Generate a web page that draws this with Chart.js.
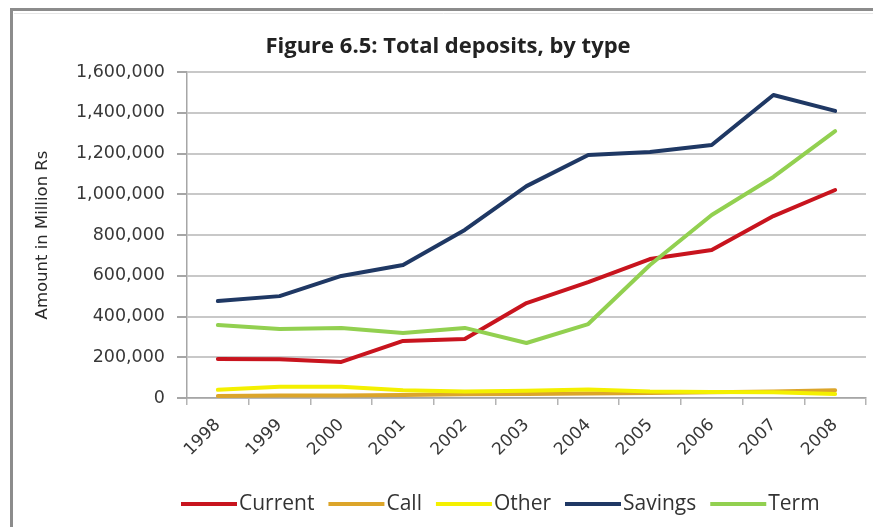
<!DOCTYPE html>
<html>
<head>
<meta charset="utf-8">
<script src="https://cdn.jsdelivr.net/npm/chart.js@4/dist/chart.umd.min.js"></script>
<style>
  html, body { margin: 0; padding: 0; background: #fff; }
  #wrap { width: 873px; height: 527px; position: relative; overflow: hidden; }
</style>
</head>
<body>
<div id="wrap"><canvas id="c" width="873" height="527"></canvas></div>
<script>
// Deposit totals by type, million Rs
const years   = ['1998', '1999', '2000', '2001', '2002', '2003', '2004', '2005', '2006', '2007', '2008'];
const current = [191000, 190000, 177000, 280000, 290000, 466000, 569000, 682000, 726000, 893000, 1021000];
const call    = [10000, 12000, 12000, 15000, 18000, 20000, 22000, 25000, 28000, 32000, 38000];
const other   = [40000, 55000, 55000, 38000, 32000, 35000, 42000, 32000, 30000, 28000, 20000];
const savings = [476000, 500000, 599000, 653000, 825000, 1040000, 1193000, 1207000, 1242000, 1487000, 1409000];
const term    = [358000, 339000, 344000, 319000, 344000, 270000, 363000, 653000, 898000, 1085000, 1310000];
const yTicks  = [0, 200000, 400000, 600000, 800000, 1000000, 1200000, 1400000, 1600000];

const seriesNames  = ['Current', 'Call', 'Other', 'Savings', 'Term'];
const seriesValues = [current, call, other, savings, term];
const seriesColors = ['#c8141e', '#dca52a', '#f4f000', '#1f3864', '#92d050'];

const datasets = seriesNames.map((name, i) => ({
  label: name,
  data: seriesValues[i],
  borderColor: seriesColors[i],
  backgroundColor: seriesColors[i],
  borderWidth: 4,
  pointRadius: 0,
  tension: 0,
  fill: false,
  borderCapStyle: 'round',
  borderJoinStyle: 'round',
  // later series sit on top of earlier ones
  order: seriesNames.length - i
}));

// white background plus the grey frame around the chart
const framePlugin = {
  id: 'frame',
  beforeDraw(chart) {
    const ctx = chart.ctx;
    ctx.save();
    ctx.fillStyle = '#ffffff';
    ctx.fillRect(0, 0, chart.width, chart.height);
    ctx.strokeStyle = '#8c8c8c';
    ctx.lineWidth = 3;
    ctx.strokeRect(11.5, 9.5, chart.width + 20, chart.height + 20);
    ctx.strokeStyle = '#e6e6e6';
    ctx.lineWidth = 1;
    ctx.beginPath();
    ctx.moveTo(14, 13.5);
    ctx.lineTo(chart.width, 13.5);
    ctx.stroke();
    ctx.restore();
  }
};

// legend row under the axis: short line sample followed by the series name
const lineLegend = {
  id: 'lineLegend',
  afterDraw(chart) {
    const ctx = chart.ctx;
    const font = '21px "Open Sans"';
    const y = 504;
    const lineLen = 56;
    const gap = 2;
    const spacing = 14;
    ctx.save();
    ctx.font = font;
    ctx.textBaseline = 'middle';
    ctx.fillStyle = '#333333';
    let x = 181;
    chart.data.datasets.forEach(ds => {
      ctx.strokeStyle = ds.borderColor;
      ctx.lineWidth = 4;
      ctx.lineCap = 'butt';
      ctx.beginPath();
      ctx.moveTo(x, y);
      ctx.lineTo(x + lineLen, y);
      ctx.stroke();
      const tx = x + lineLen + gap;
      ctx.fillText(ds.label, tx, y);
      x = tx + ctx.measureText(ds.label).width + spacing;
    });
    ctx.restore();
  }
};

new Chart(document.getElementById('c'), {
  type: 'line',
  data: { labels: years, datasets },
  plugins: [framePlugin, lineLegend],
  options: {
    responsive: false,
    devicePixelRatio: 1,
    animation: false,
    layout: { padding: { left: 30, right: 7, top: 0, bottom: 0 } },
    plugins: {
      legend: { display: false },
      tooltip: { enabled: false },
      title: {
        display: true,
        text: 'Figure 6.5: Total deposits, by type',
        color: '#222222',
        font: { family: 'Open Sans', weight: 'bold', size: 22 },
        padding: { top: 34, bottom: 11.6 }
      }
    },
    scales: {
      x: {
        offset: true,
        grid: {
          offset: true,
          drawOnChartArea: false,
          drawTicks: true,
          tickLength: 7,
          color: '#b4b4b4',
          lineWidth: 1.5
        },
        border: { color: '#a6a6a6', width: 1.5 },
        ticks: {
          maxRotation: 45,
          minRotation: 45,
          padding: 10,
          color: '#383838',
          font: { family: 'DejaVu Sans', size: 17 }
        },
        afterFit(scale) { scale.height = 129; }
      },
      y: {
        min: 0,
        max: 1600000,
        afterBuildTicks(scale) { scale.ticks = yTicks.map(v => ({ value: v })); },
        ticks: {
          padding: 12,
          color: '#383838',
          font: { family: 'DejaVu Sans', size: 17.5 },
          callback: v => Number(v).toLocaleString('en-US')
        },
        grid: {
          color: '#c8c8c8',
          lineWidth: 2,
          tickLength: 10,
          tickColor: '#a6a6a6'
        },
        border: { color: '#a6a6a6', width: 1.5 },
        title: {
          display: true,
          text: 'Amount in Million Rs',
          color: '#2a2a2a',
          font: { family: 'DejaVu Sans', size: 16.5 },
          padding: { top: 3, bottom: 0 }
        },
        afterFit(scale) { scale.width = 157; }
      }
    }
  }
});
</script>
</body>
</html>
